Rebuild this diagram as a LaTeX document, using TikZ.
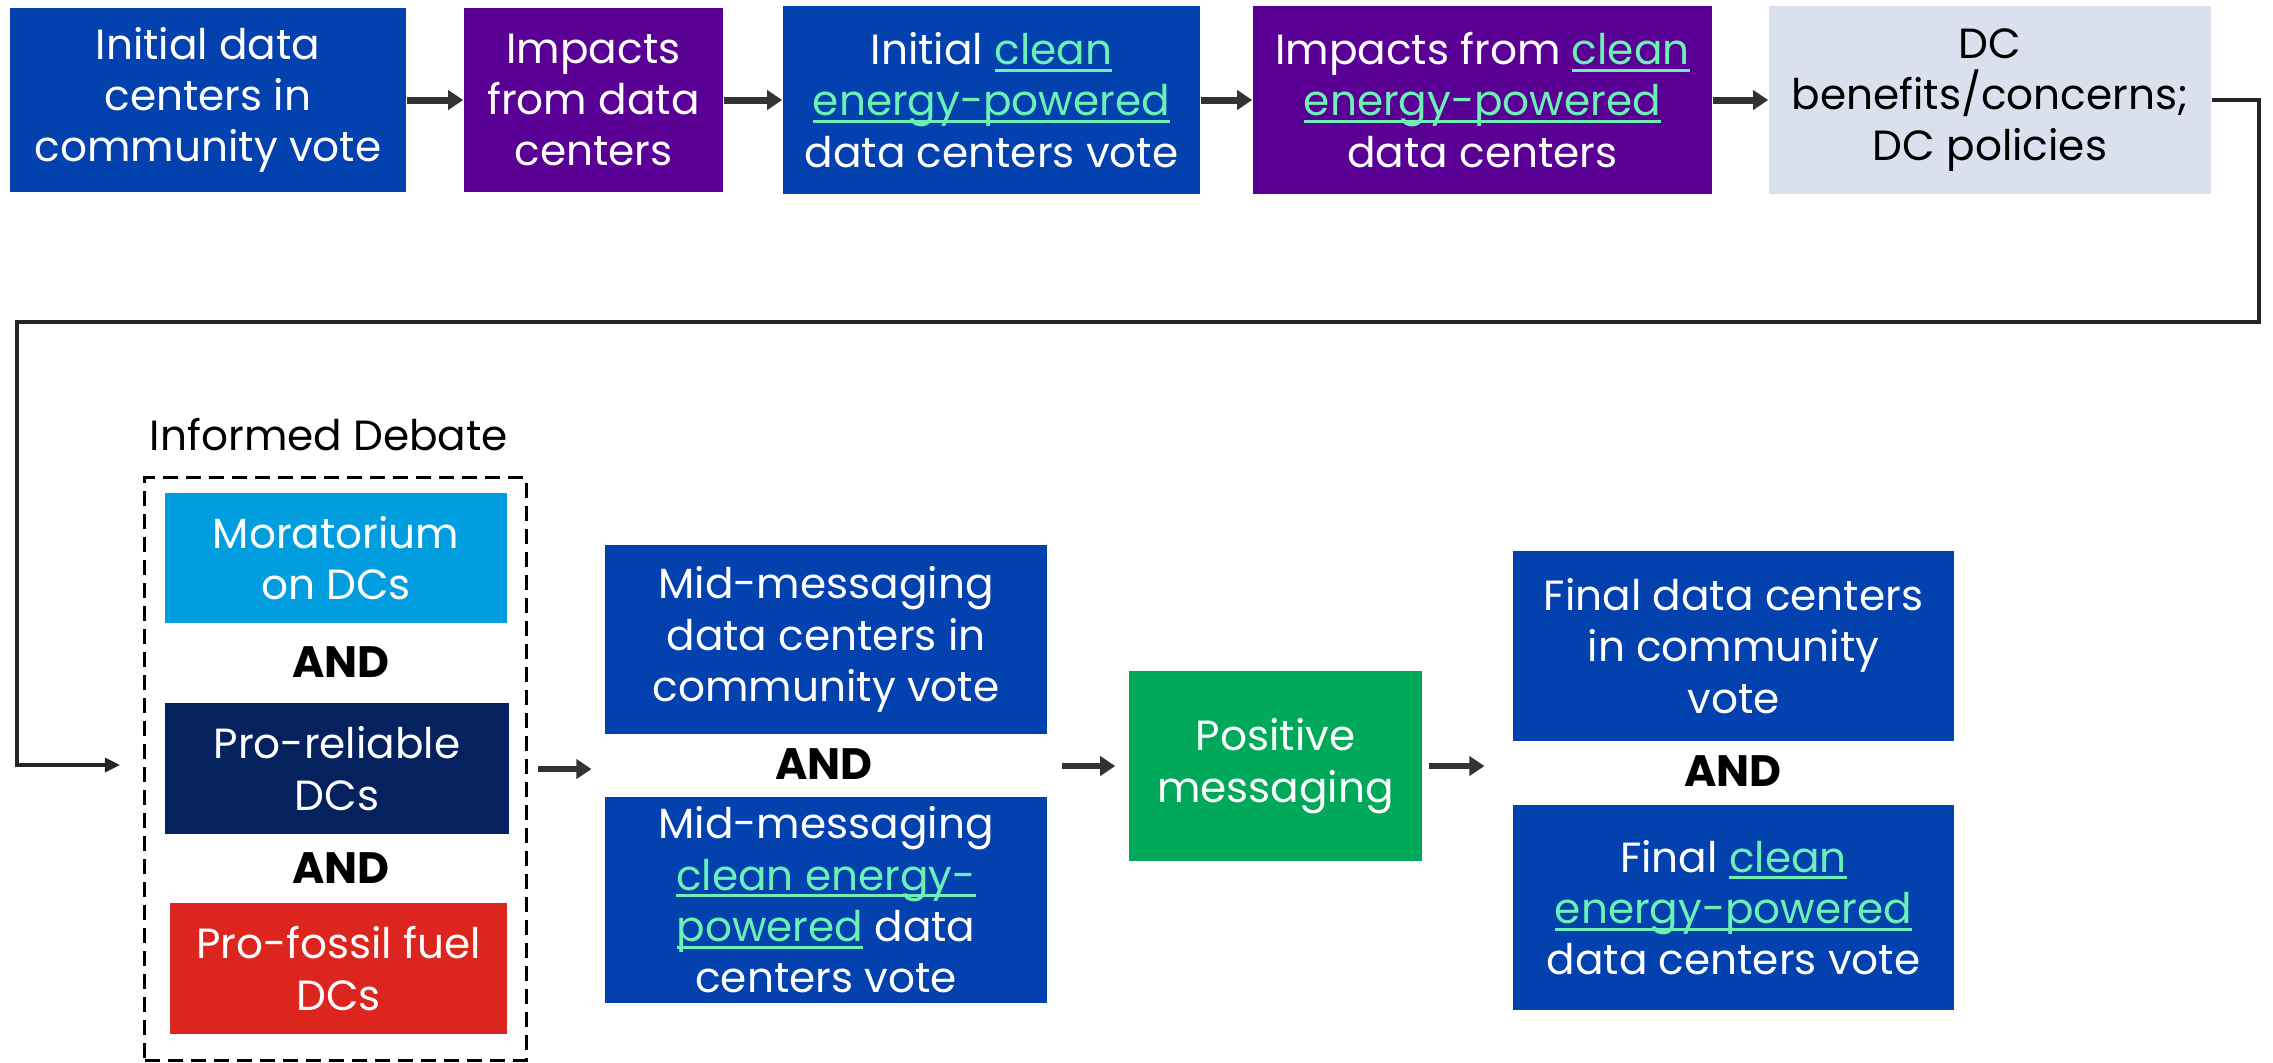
\documentclass[tikz,border=0pt]{standalone}
\usepackage{fontspec}
\setmainfont{Poppins}
\usetikzlibrary{arrows.meta}
\usetikzlibrary{fit}

\definecolor{dcblue}{RGB}{3,65,174}
\definecolor{dcpurple}{RGB}{91,0,148}
\definecolor{dcgray}{RGB}{218,224,238}
\definecolor{dccyan}{RGB}{0,158,222}
\definecolor{dcnavy}{RGB}{6,34,94}
\definecolor{dcred}{RGB}{220,37,30}
\definecolor{dcgreen}{RGB}{0,168,89}
\definecolor{linkmint}{RGB}{108,240,182}
\definecolor{arrowgray}{RGB}{51,51,51}

\newcommand{\stagefont}{\fontsize{12}{14.6}\selectfont}
\newlength{\linkwd}
\newcommand{\cleanlink}[1]{\settowidth{\linkwd}{#1}%
  \textcolor{linkmint}{\rlap{\rule[-0.17em]{\linkwd}{0.07em}}#1}}

\tikzstyle{stage}=[align=center, inner sep=0, text=white, font=\stagefont]
\tikzstyle{blue stage}=[stage, fill=dcblue]
\tikzstyle{purple stage}=[stage, fill=dcpurple]
\tikzstyle{gray stage}=[stage, fill=dcgray, text=black]
\tikzstyle{and label}=[font=\fontsize{12.5}{15}\selectfont\bfseries]
\tikzstyle{flow}=[line width=2pt, draw=arrowgray, -{Triangle[length=0.15cm, width=0.19cm]}]
\tikzstyle{loop}=[line width=0.9pt, draw=black!85, -{Triangle[length=0.15cm, width=0.14cm]}]
\tikzstyle{frame}=[draw, line width=0.8pt, dash pattern=on 0.15cm off 0.08cm]

\begin{document}
\begin{tikzpicture}[x=0.01cm, y=-0.01cm]
  \useasboundingbox (0,0) rectangle (2273,1062);

  % top row
  \node[blue stage, minimum width=3.96cm, minimum height=1.84cm] (init_dc) at (208,100)
    {Initial data\\centers in\\community vote};
  \node[purple stage, minimum width=2.59cm, minimum height=1.84cm] (impacts_dc) at (593.5,100)
    {Impacts\\from data\\centers};
  \node[blue stage, minimum width=4.17cm, minimum height=1.88cm] (init_clean) at (991.5,100)
    {Initial \cleanlink{clean}\\\cleanlink{energy-powered}\\data centers vote};
  \node[purple stage, minimum width=4.59cm, minimum height=1.87cm] (impacts_clean) at (1482.5,100)
    {Impacts from \cleanlink{clean}\\\cleanlink{energy-powered}\\data centers};
  \node[gray stage, minimum width=4.42cm, minimum height=1.87cm] (dc_policies) at (1990,100)
    {DC\\benefits/concerns;\\DC policies};

  \draw[flow] (init_dc) -- (impacts_dc);
  \draw[flow] (impacts_dc) -- (init_clean);
  \draw[flow] (init_clean) -- (impacts_clean);
  \draw[flow] (impacts_clean) -- (dc_policies);

  \coordinate (loop_right) at (2259,322);
  \coordinate (loop_left) at (17,322);
  \coordinate (debate_in) at (120,765);
  \draw[loop] (dc_policies.east) -| (loop_right) -- (loop_left) |- (debate_in);

  % informed debate
  \node[font=\stagefont] (debate_label) at (329,435) {Informed Debate};
  \node[frame, minimum width=3.81cm, minimum height=5.82cm] (debate) at (335.5,769) {};
  \node[stage, fill=dccyan, minimum width=3.42cm, minimum height=1.30cm] (moratorium) at (336,558)
    {Moratorium\\on DCs};
  \node[and label] (and_one) at (341,662) {AND};
  \node[stage, fill=dcnavy, minimum width=3.44cm, minimum height=1.31cm] (reliable) at (337,768.5)
    {Pro-reliable\\DCs};
  \node[and label] (and_two) at (341,868) {AND};
  \node[stage, fill=dcred, minimum width=3.37cm, minimum height=1.31cm] (fossil) at (338.5,968.5)
    {Pro-fossil fuel\\DCs};

  % mid messaging
  \node[blue stage, minimum width=4.42cm, minimum height=1.89cm] (mid_dc) at (826,639.5)
    {Mid-messaging\\data centers in\\community vote};
  \node[and label] (and_mid) at (824,764) {AND};
  \node[blue stage, minimum width=4.42cm, minimum height=2.06cm] (mid_clean) at (826,900)
    {Mid-messaging\\\cleanlink{clean energy-}\\\cleanlink{powered} data\\centers vote};
  \node[fit=(mid_dc)(mid_clean), inner sep=0] (mid_group) {};

  \node[stage, fill=dcgreen, minimum width=2.93cm, minimum height=1.90cm] (positive) at (1275.5,766)
    {Positive\\messaging};

  % final
  \node[blue stage, minimum width=4.41cm, minimum height=1.90cm] (final_dc) at (1733.5,646)
    {Final data centers\\in community\\vote};
  \node[and label] (and_final) at (1733,771) {AND};
  \node[blue stage, minimum width=4.41cm, minimum height=2.05cm] (final_clean) at (1733.5,907.5)
    {Final \cleanlink{clean}\\\cleanlink{energy-powered}\\data centers vote};
  \node[fit=(final_dc)(final_clean), inner sep=0] (final_group) {};

  \draw[flow, line width=1.6pt, shorten <=0.1cm, shorten >=0.12cm]
    (debate.east) -- (debate.east -| mid_group.west);
  \draw[flow, line width=1.6pt, shorten <=0.13cm, shorten >=0.13cm]
    (positive.west -| mid_group.east) -- (positive.west);
  \draw[flow, line width=1.6pt, shorten <=0.06cm, shorten >=0.27cm]
    (positive.east) -- (positive.east -| final_group.west);
\end{tikzpicture}
\end{document}
